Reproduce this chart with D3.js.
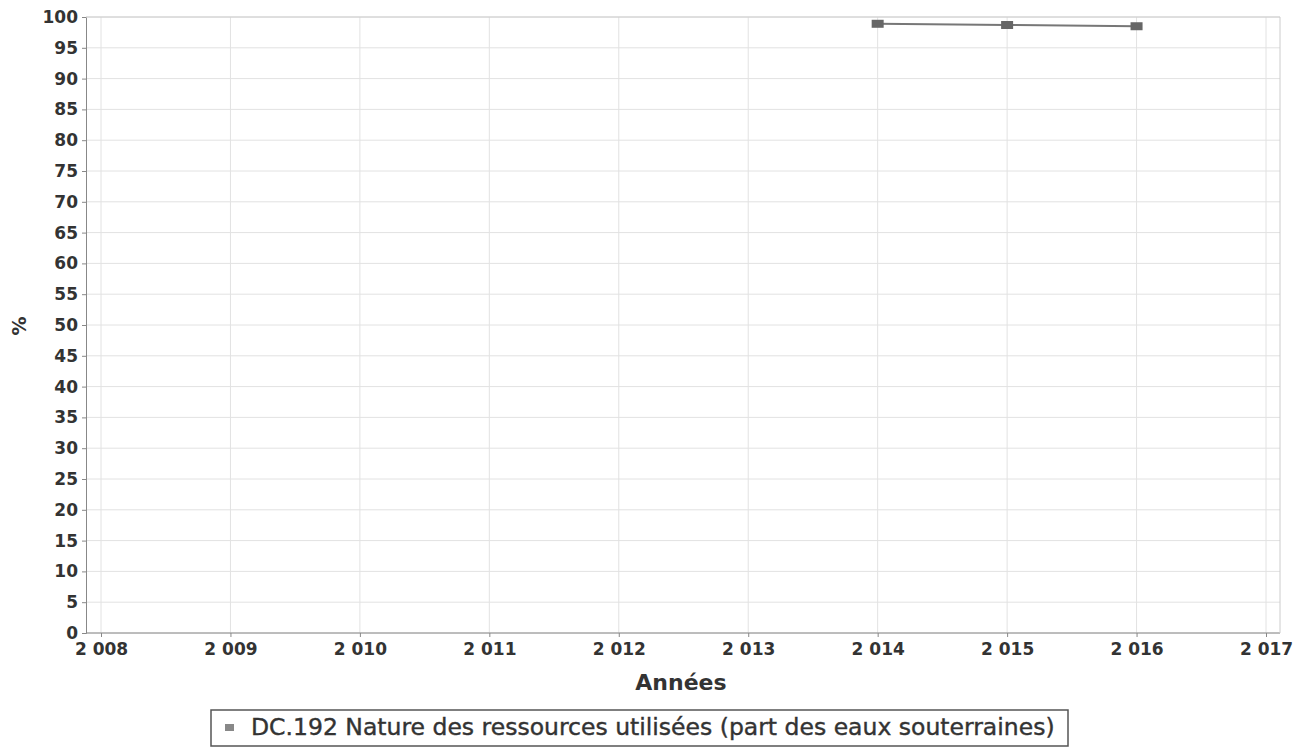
<!DOCTYPE html>
<html><head><meta charset="utf-8">
<script src="https://cdn.jsdelivr.net/npm/d3@7"></script>
<style>body{margin:0;background:#fff}svg{display:block}text{font-family:"DejaVu Sans",sans-serif}</style>
</head><body>
<svg id="c" width="1306" height="756"></svg>
<script>
const years = [2014, 2015, 2016];
const values = [98.9, 98.7, 98.5];
const xTicks = [2008, 2009, 2010, 2011, 2012, 2013, 2014, 2015, 2016, 2017];
const xTickLabels = ["2 008","2 009","2 010","2 011","2 012","2 013","2 014","2 015","2 016","2 017"];
const yTicks = d3.range(0, 101, 5);
const seriesName = "DC.192 Nature des ressources utilisées (part des eaux souterraines)";

(function(){
const svg = d3.select("#c");
const pL = 86, pR = 1280, pT = 17, pB = 633;
const x = d3.scaleLinear().domain([2008, 2017]).range([101, 1266]);
const y = d3.scaleLinear().domain([0, 100]).range([pB, pT]);

// grid
svg.append("g").selectAll("line").data(yTicks).join("line")
  .attr("x1", pL).attr("x2", pR).attr("y1", d => y(d)).attr("y2", d => y(d))
  .attr("stroke", "#e2e2e2").attr("stroke-width", 1);
svg.append("g").selectAll("line").data(xTicks).join("line")
  .attr("x1", d => x(d)).attr("x2", d => x(d)).attr("y1", pT).attr("y2", pB)
  .attr("stroke", "#e2e2e2").attr("stroke-width", 1);

// axes
const yAxis = d3.axisLeft(y).tickValues(yTicks).tickSize(4).tickPadding(4);
const gy = svg.append("g").attr("transform", `translate(${pL},0)`).call(yAxis);
gy.select(".domain").attr("stroke", "#888");
gy.selectAll(".tick line").attr("stroke", "#888");
gy.selectAll("text").attr("font-size", 17).attr("font-weight", "bold").attr("fill", "#333");

const xAxis = d3.axisBottom(x).tickValues(xTicks).tickFormat((d, i) => xTickLabels[i]).tickSize(4).tickPadding(6);
const gx = svg.append("g").attr("transform", `translate(0,${pB})`).call(xAxis);
gx.select(".domain").attr("d", `M${pL},0H${pR}`).attr("stroke", "#888");
gx.selectAll(".tick line").attr("stroke", "#888");
gx.selectAll("text").attr("font-size", 17).attr("font-weight", "bold").attr("fill", "#333");

svg.append("line").attr("x1", pR).attr("x2", pR).attr("y1", pT).attr("y2", pB).attr("stroke", "#ccc");
svg.append("line").attr("x1", pL).attr("x2", pR).attr("y1", pT).attr("y2", pT).attr("stroke", "#ccc");

// axis titles
svg.append("text").attr("x", 681).attr("y", 690).attr("text-anchor", "middle")
  .attr("font-size", 22).attr("font-weight", "bold").attr("fill", "#333").text("Années");
svg.append("text").attr("transform", "translate(26,326) rotate(-90)").attr("text-anchor", "middle")
  .attr("font-size", 19).attr("font-weight", "bold").attr("fill", "#333").text("%");

// series
const data = years.map((d, i) => ({year: d, value: values[i]}));
svg.append("path").datum(data)
  .attr("d", d3.line().x(d => x(d.year)).y(d => y(d.value)))
  .attr("fill", "none").attr("stroke", "#777").attr("stroke-width", 2);
svg.append("g").selectAll("rect").data(data).join("rect")
  .attr("x", d => x(d.year) - 6).attr("y", d => y(d.value) - 4)
  .attr("width", 12).attr("height", 8).attr("fill", "#666");

// legend
const lg = svg.append("g");
lg.append("rect").attr("x", 211).attr("y", 710).attr("width", 857).attr("height", 36)
  .attr("fill", "#fff").attr("stroke", "#555").attr("stroke-width", 1.5);
lg.append("rect").attr("x", 225).attr("y", 724).attr("width", 9).attr("height", 7).attr("fill", "#888");
lg.append("text").attr("x", 251).attr("y", 735).attr("font-size", 23.5).attr("fill", "#333")
  .attr("stroke", "#333").attr("stroke-width", 0.4).text(seriesName);
})();
</script>
</body></html>
